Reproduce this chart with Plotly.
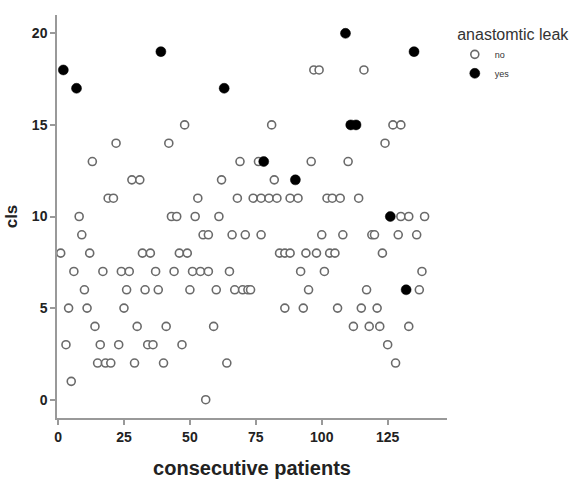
import plotly.graph_objects as go

# Patients without anastomotic leak: consecutive patient number and cls score
no_patients = [19, 21, 53, 68, 74, 77, 80, 83, 88, 91, 102, 104, 107, 114,
               8, 43, 45, 52, 61, 130, 133, 139,
               9, 55, 57, 66, 71, 77, 100, 108, 119, 120, 129, 136,
               1, 12, 32, 35, 46, 49, 84, 86, 88, 94, 98, 103, 105, 123,
               6, 17, 24, 27, 37, 44, 51, 54, 57, 65, 92, 101, 138,
               10, 26, 33, 38, 50, 60, 67, 70, 72, 73, 95, 117, 137,
               4, 11, 25, 86, 93, 106, 115, 121,
               14, 30, 41, 59, 112, 118, 122, 133,
               3, 16, 23, 34, 36, 47, 125,
               15, 18, 20, 29, 40, 64, 128,
               5, 56,
               97, 99, 116, 48, 81, 127, 130, 22, 42, 124,
               13, 69, 76, 96, 110, 28, 31, 62, 82]
no_cls = [11] * 14 + [10] * 8 + [9] * 12 + [8] * 14 + [7] * 13 + [6] * 13 \
    + [5] * 8 + [4] * 8 + [3] * 7 + [2] * 7 + [1, 0] \
    + [18, 18, 18, 15, 15, 15, 15, 14, 14, 14] \
    + [13, 13, 13, 13, 13, 12, 12, 12, 12]

# Patients with anastomotic leak
yes_patients = [2, 7, 39, 63, 78, 90, 109, 111, 113, 126, 132, 135]
yes_cls = [18, 17, 19, 17, 13, 12, 20, 15, 15, 10, 6, 19]

x_ticks = [0, 25, 50, 75, 100, 125]
y_ticks = [0, 5, 10, 15, 20]

font_family = "Liberation Sans, Arial, sans-serif"

fig = go.Figure()
fig.add_trace(go.Scatter(
    x=no_patients, y=no_cls, mode="markers", name="no",
    marker=dict(symbol="circle", size=8, color="white",
                line=dict(color="#6a6a6a", width=1.6)),
))
fig.add_trace(go.Scatter(
    x=yes_patients, y=yes_cls, mode="markers", name="yes",
    marker=dict(symbol="circle", size=10, color="black",
                line=dict(color="black", width=0.5)),
))

fig.update_layout(
    width=584, height=479,
    margin=dict(l=57, r=137, t=15, b=61),
    paper_bgcolor="white", plot_bgcolor="white",
    font=dict(family=font_family, color="#222222"),
    showlegend=True,
    legend=dict(
        x=1.02, y=0.99, xanchor="left", yanchor="top",
        title=dict(text="anastomtic leak", side="top center",
                   font=dict(size=16, color="#333333", family=font_family)),
        font=dict(size=9, color="#333333", family=font_family),
        itemwidth=30, tracegroupgap=0,
        bgcolor="rgba(0,0,0,0)",
    ),
    xaxis=dict(
        range=[-0.4, 147.5], tickvals=x_ticks, ticktext=[str(t) for t in x_ticks],
        showgrid=False, zeroline=False, showline=True, linecolor="#999999",
        linewidth=1.5, ticks="outside", ticklen=5, tickwidth=1.5, tickcolor="#999999",
        tickfont=dict(size=14, family=font_family, color="#222222", weight="bold"),
        automargin=False,
        title=dict(text="consecutive patients", standoff=18,
                   font=dict(size=20, family=font_family, color="#222222", weight="bold")),
    ),
    yaxis=dict(
        range=[-1, 21], tickvals=y_ticks, ticktext=[str(t) for t in y_ticks],
        showgrid=False, zeroline=False, showline=True, linecolor="#999999",
        linewidth=1.5, ticks="outside", ticklen=5, tickwidth=1.5, tickcolor="#999999",
        tickfont=dict(size=14, family=font_family, color="#222222", weight="bold"),
        automargin=False,
        title=dict(text="cls", standoff=10,
                   font=dict(size=17, family=font_family, color="#222222", weight="bold")),
    ),
)

fig.write_html("out.html")
